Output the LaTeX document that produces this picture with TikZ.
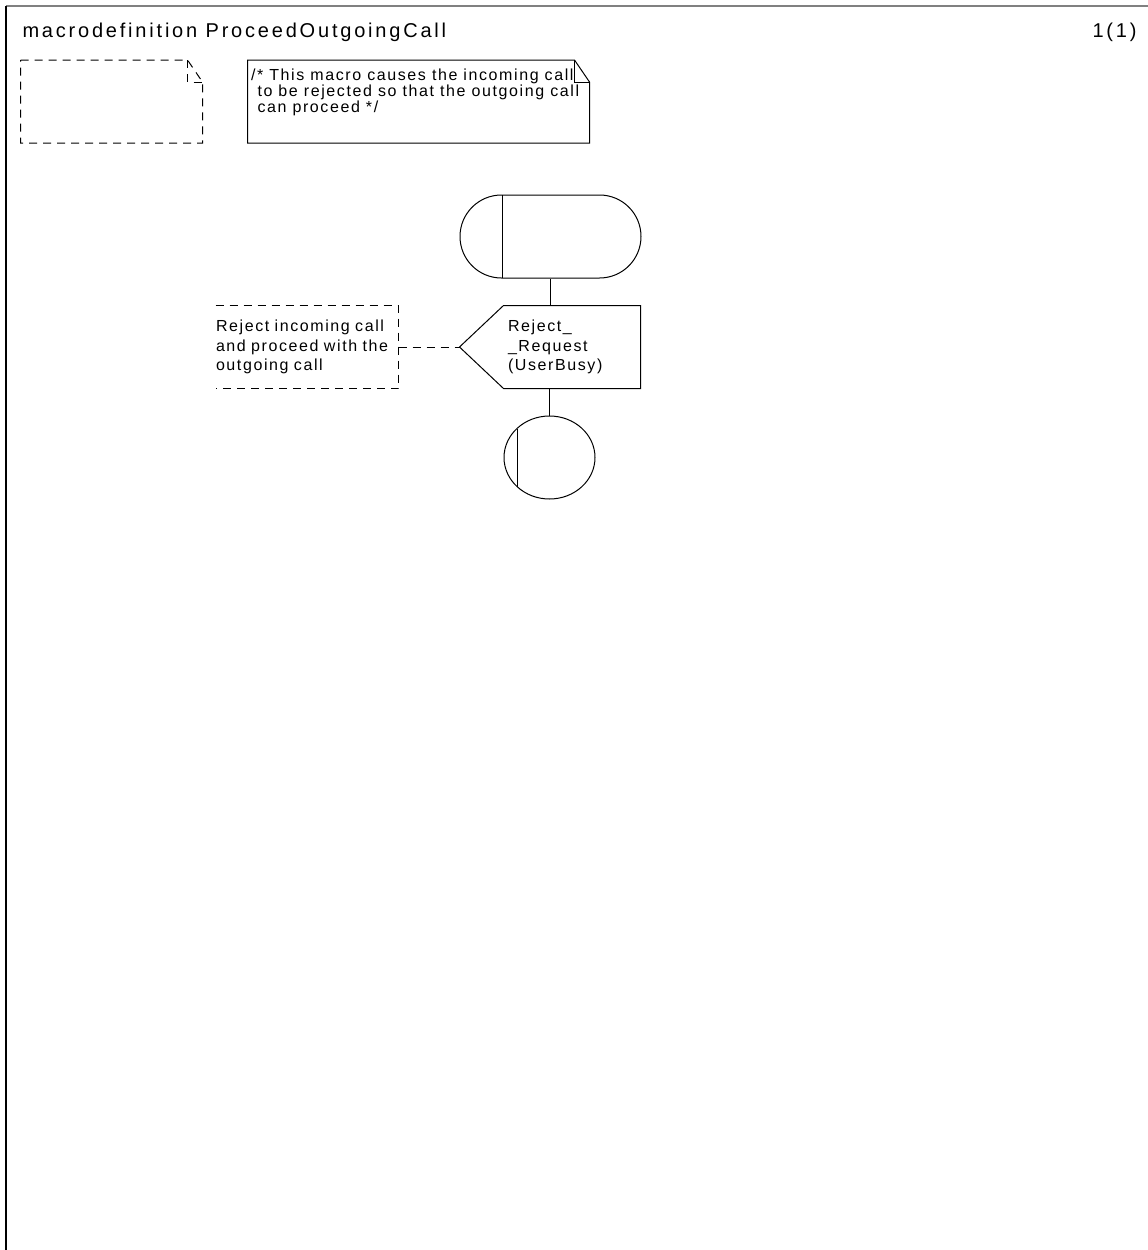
\documentclass[tikz,border=0pt]{standalone}
\usepackage{fontspec}
\setmainfont{Liberation Sans}
\newfontfamily\sdlfont{Liberation Sans}[LetterSpace=10]
\newfontfamily\sdltitlefont{Liberation Sans}[LetterSpace=14]
\usetikzlibrary{positioning, calc, shapes.misc, shapes.geometric}

\begin{document}
\begin{tikzpicture}[
    x=1pt, y=-1pt,
    line width=1pt,
    sdltext/.style={font={\sdlfont\fontsize{16}{19.5}\selectfont}, align=left, inner sep=0pt},
    notetext/.style={font={\sdlfont\fontsize{16}{16}\selectfont}, align=left, inner sep=0pt},
    titletext/.style={font={\sdltitlefont\fontsize{20}{24}\selectfont}, inner sep=0pt},
    symbol/.style={minimum width=181pt, minimum height=83pt, inner sep=0pt},
    dashline/.style={dash pattern=on 8pt off 6pt}
  ]
  \useasboundingbox (0,0) rectangle (1148,1250);

  % Page frame
  \draw[line width=2pt, black!50] (6,5.5) -- (1148,5.5);
  \draw[line width=2pt] (6,5.5) -- (6,1250);

  % Heading
  \node[titletext, anchor=base west] (title) at (22,37) {macrodefinition ProceedOutgoingCall};
  \node[titletext, anchor=base east] (pagenum) at (1137,37) {1(1)};

  % Text symbol (empty)
  \node[symbol, minimum height=82pt] (decl) at (111.5,101.5) {};
  \draw[dashline] (decl.north west) -- ($(decl.north east)+(-15,0)$) coordinate (declfold)
    -- ($(decl.north east)+(0,22)$) -- (decl.south east) -- (decl.south west) -- cycle;
  \draw[dashline] (declfold) -- ++(0,22) -- ++(15,0);

  % Comment
  \node[minimum width=341pt, minimum height=82pt, inner sep=0pt] (cmt) at (418.5,101.5) {};
  \draw (cmt.north west) -- ($(cmt.north east)+(-15,0)$) coordinate (cmtfold)
    -- ($(cmt.north east)+(0,22)$) -- (cmt.south east) -- (cmt.south west) -- cycle;
  \draw (cmtfold) -- ++(0,22) -- ++(15,0);
  \node[notetext, anchor=north west] (cmttext) at ($(cmt.north west)+(3,8)$)
    {/* This macro causes the incoming call\\\hspace*{6.5pt}to be rejected so that the outgoing call\\\hspace*{6.5pt}can proceed */};

  % Macro start
  \node[symbol, rounded rectangle, draw] (start) at (550.5,236.5) {};
  \draw ($(start.west)+(43,-41.5)$) -- ($(start.west)+(43,41.5)$);

  % Output
  \node[sdltext, minimum height=82pt, text width=128pt, inner xsep=4pt,
        below=27pt of start, xshift=21.5pt] (sig) {Reject\_\\\_Request\\(UserBusy)};
  \coordinate[left=44pt of sig.west] (sigtip);
  \draw (sig.north west) -- (sig.north east) -- (sig.south east) -- (sig.south west) -- (sigtip) -- cycle;

  % Macro return
  \node[symbol, ellipse, draw, minimum width=91pt, below=27pt of sig, xshift=-22.5pt] (ret) {};
  \draw ($(ret.center)+(-32.5,-29)$) -- ($(ret.center)+(-32.5,29)$);

  % Flow lines
  \draw (start.south) -- (start.south |- sig.north);
  \draw (ret.north |- sig.south) -- (ret.north);

  % Comment on the output
  \node[sdltext, text width=182pt, minimum height=82pt, left=61pt of sigtip] (note)
    {Reject incoming call\\and proceed with the\\outgoing call};
  \draw[dashline] (note.north west) -- (note.north east) -- (note.south east) -- (note.south west);
  \draw[dashline] (note.east) -- (sigtip);

\end{tikzpicture}
\end{document}
